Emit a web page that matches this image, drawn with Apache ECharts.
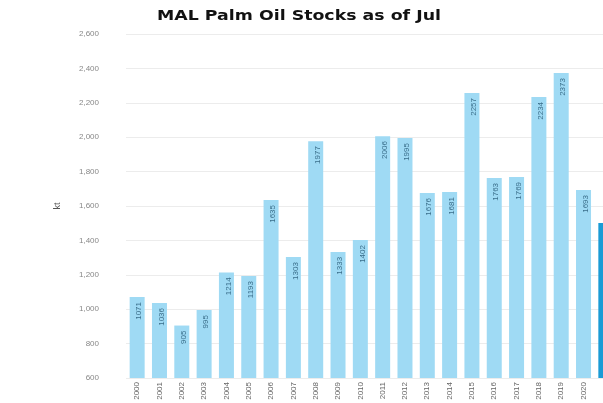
<!DOCTYPE html>
<html><head><meta charset="utf-8">
<script src="https://cdn.jsdelivr.net/npm/echarts@6/dist/echarts.min.js"></script>
<style>html,body{margin:0;padding:0;background:#fff}#c{width:603px;height:403px}</style>
</head><body><div id="c"></div>
<script>
const years = ['2000','2001','2002','2003','2004','2005','2006','2007','2008','2009','2010','2011','2012','2013','2014','2015','2016','2017','2018','2019','2020','2021'];
const stocks = [1071,1036,905,995,1214,1193,1635,1303,1977,1333,1402,2006,1995,1676,1681,2257,1763,1769,2234,2373,1693,1501];
const yTicks = {min:600, max:2600, step:200};
const chartTitle = 'MAL Palm Oil Stocks as of Jul';
const chart = echarts.init(document.getElementById('c'));
const data = stocks.map((v,i)=>({
  value:v,
  itemStyle:{color: i===stocks.length-1 ? '#1a9bd5' : '#9fdaf4'},
  label:{show: i!==stocks.length-1}
}));
chart.setOption({
  animation:false,
  graphic:[{type:'text', x:299, y:16, scaleX:1.24,
    style:{text:chartTitle, font:'bold 14px "DejaVu Sans"', fill:'#111', align:'center', verticalAlign:'middle'}}],
  grid:{left:126, right:-14, top:34, bottom:25, containLabel:false, outerBoundsMode:'none'},
  xAxis:{type:'category', data:years,
    axisLine:{show:false}, axisTick:{show:false},
    axisLabel:{rotate:90, fontSize:8, color:'#666', margin:4, interval:0, fontFamily:'Liberation Sans'}},
  yAxis:{type:'value', min:yTicks.min, max:yTicks.max, interval:yTicks.step,
    name:'kt', nameLocation:'middle', nameGap:64, nameRotate:90,
    nameTextStyle:{fontSize:9, color:'#555'},
    axisLabel:{fontSize:8, color:'#888', margin:27, fontFamily:'Liberation Sans',
      formatter:v=>v.toLocaleString('en-US')},
    splitLine:{lineStyle:{color:'#ececec'}}},
  series:[{type:'bar', data:data, barWidth:15,
    label:{show:true, position:'insideTop', rotate:90, fontSize:8, color:'#3a6e8a',
      align:'right', verticalAlign:'middle', offset:[0,2], fontFamily:'Liberation Sans'}}]
});
</script></body></html>
